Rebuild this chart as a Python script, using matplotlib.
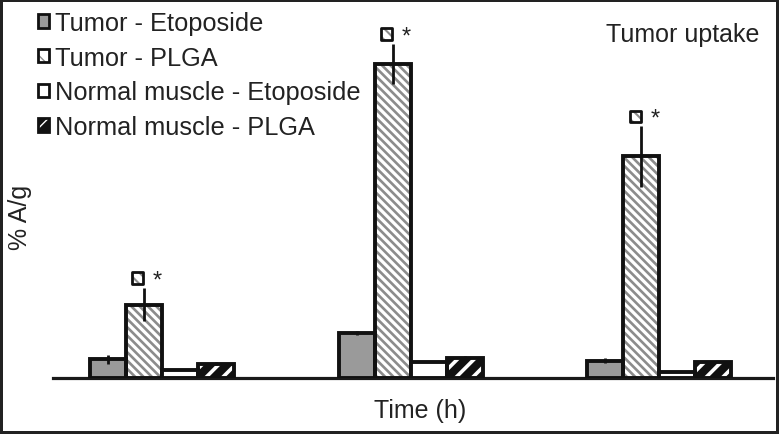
import matplotlib
matplotlib.use("Agg")
import matplotlib.pyplot as plt
import matplotlib.transforms as mtransforms
from matplotlib.patches import Patch
from matplotlib.legend_handler import HandlerTuple
import numpy as np

plt.rcParams['font.family'] = ['Liberation Sans', 'DejaVu Sans']

# ---- data ----
groups = ["1", "2", "3"]
series = ["Tumor - Etoposide", "Tumor - PLGA",
          "Normal muscle - Etoposide", "Normal muscle - PLGA"]
tumor_etoposide = [0.54, 1.29, 0.50]
tumor_plga = [2.10, 8.97, 6.33]
normal_etoposide = [0.23, 0.46, 0.17]
normal_plga = [0.41, 0.58, 0.46]
err_tumor_etoposide = [0.13, 0.05, 0.08]
err_tumor_plga = [0.47, 0.57, 0.86]
err_normal_etoposide = [0.0, 0.0, 0.0]
err_normal_plga = [0.04, 0.04, 0.04]
significant = [True, True, True]
title_text = "Tumor uptake"
xlabel = "Time (h)"
ylabel = "% A/g"

values = [tumor_etoposide, tumor_plga, normal_etoposide, normal_plga]
errors = [err_tumor_etoposide, err_tumor_plga, err_normal_etoposide, err_normal_plga]

# styles: (face, hatch, hatchcolor, hatch linewidth)
styles = [
    dict(face="#9a9a9a", hatch=None, hcol=None, hlw=1.0),
    dict(face="white", hatch="\\\\\\\\", hcol="#8c8c8c", hlw=1.9),
    dict(face="white", hatch=None, hcol=None, hlw=1.0),
    dict(face="#111111", hatch="//", hcol="white", hlw=2.6),
]

W, H = 779, 435
fig = plt.figure(figsize=(W / 100, H / 100), dpi=100)
fig.patch.set_facecolor("white")
fig.patch.set_edgecolor("#222222")
fig.patch.set_linewidth(3)

ax = fig.add_axes([53 / W, (H - 379) / H, (773 - 53) / W, (379 - 5) / H])
ax.set_xlim(-0.436, 2.456)
ax.set_ylim(0, 374 / 35)

x = np.arange(len(groups))
w = 0.1446
offsets = [-1.5 * w, -0.5 * w, 0.5 * w, 1.5 * w]
edge_lw = 2.8

for vals, errs, off, st in zip(values, errors, offsets, styles):
    xs = x + off
    if st["hatch"]:
        with plt.rc_context({"hatch.linewidth": st["hlw"]}):
            ax.bar(xs, vals, w, color=st["face"], edgecolor=st["hcol"],
                   hatch=st["hatch"], linewidth=0, zorder=2)
        ax.bar(xs, vals, w, fill=False, edgecolor="#111111",
               linewidth=edge_lw, zorder=3)
    else:
        ax.bar(xs, vals, w, color=st["face"], edgecolor="#111111",
               linewidth=edge_lw, zorder=3)
    ax.errorbar(xs, vals, yerr=errs, fmt="none", ecolor="#111111",
                elinewidth=2.0, capsize=0, zorder=4)

# significance markers above Tumor - PLGA
px = 72 / 100.0
for xi, v, e, sig in zip(x + offsets[1], tumor_plga, err_tumor_plga, significant):
    if not sig:
        continue
    tr_sq = mtransforms.offset_copy(ax.transData, fig=fig, x=-6 * px, y=10 * px, units="points")
    with plt.rc_context({"hatch.linewidth": 1.5}):
        ax.scatter([xi], [v + e], s=70, marker="s", facecolor="white",
                   edgecolor="#8c8c8c", hatch="\\\\\\", linewidth=0,
                   transform=tr_sq, zorder=5, clip_on=False)
    ax.scatter([xi], [v + e], s=70, marker="s", facecolor="none",
               edgecolor="#111111", linewidth=2.0,
               transform=tr_sq, zorder=6, clip_on=False)
    tr_st = mtransforms.offset_copy(ax.transData, fig=fig, x=14 * px, y=8 * px, units="points")
    ax.text(xi, v + e, "*", transform=tr_st, fontsize=17, ha="center",
            va="center", color="#222222", zorder=6, clip_on=False)

for s in ["top", "right", "left"]:
    ax.spines[s].set_visible(False)
ax.spines["bottom"].set_linewidth(2.3)
ax.spines["bottom"].set_color("#1a1a1a")
ax.set_xticks([])
ax.set_yticks([])
ax.patch.set_alpha(0)

fig.text(420 / W, 1 - 411 / H, xlabel, fontsize=18, ha="center", va="center", color="#222222")
fig.text(20 / W, 1 - 217 / H, ylabel, fontsize=18, ha="center", va="center",
         rotation=90, color="#222222")
fig.text(683 / W, 1 - 35 / H, title_text, fontsize=18, ha="center", va="center", color="#222222")

handles = []
for st, lab in zip(styles, series):
    if st["hatch"]:
        with plt.rc_context({"hatch.linewidth": 1.2}):
            inner = Patch(facecolor=st["face"], edgecolor=st["hcol"],
                          hatch=st["hatch"].replace("\\\\", "\\")[:2], linewidth=0)
        outer = Patch(fill=False, edgecolor="#111111", linewidth=2.0)
        handles.append((inner, outer))
    else:
        handles.append(Patch(facecolor=st["face"], edgecolor="#111111",
                             linewidth=2.0))
leg = fig.legend(handles=handles, labels=series, loc="upper left",
                 bbox_to_anchor=(38 / W, 1 - 12 / H), frameon=False,
                 fontsize=18.3, handlelength=0.42, handleheight=0.42,
                 handletextpad=0.25, labelspacing=0.42, borderpad=0,
                 borderaxespad=0, labelcolor="#222222",
                 handler_map={tuple: HandlerTuple(ndivide=1, pad=0)})

fig.savefig("out.png", dpi=100, facecolor=fig.get_facecolor(), edgecolor=fig.get_edgecolor())
